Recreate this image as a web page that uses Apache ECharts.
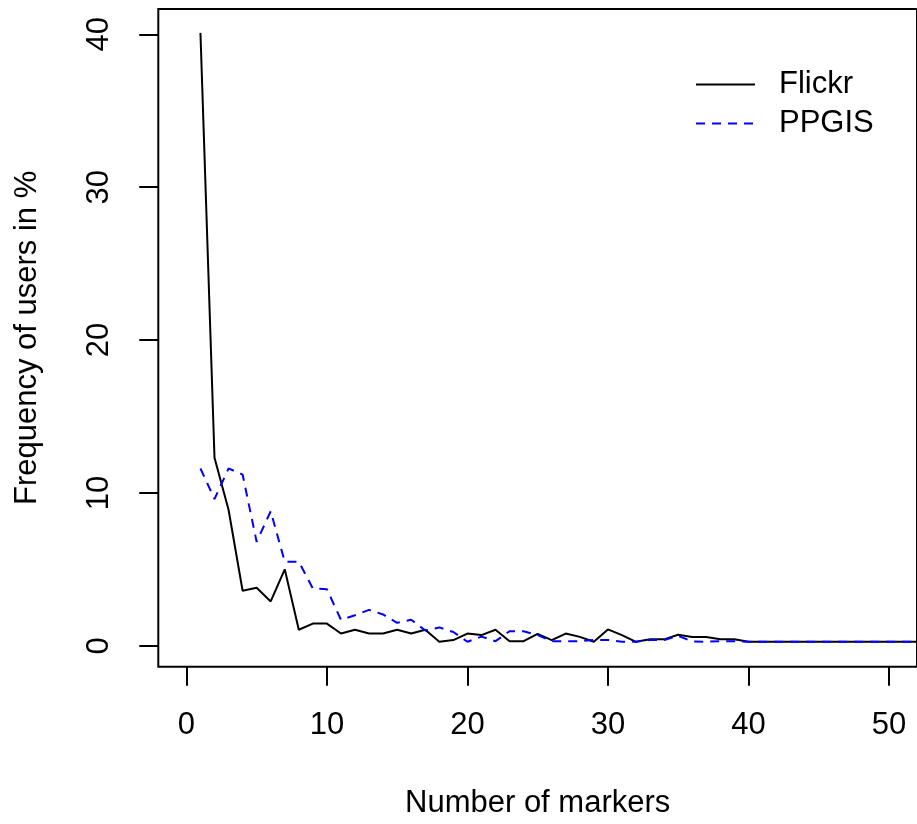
<!DOCTYPE html>
<html>
<head>
<meta charset="utf-8">
<script src="https://cdn.jsdelivr.net/npm/echarts@6/dist/echarts.min.js"></script>
<style>
html,body{margin:0;padding:0;background:#fff;}
#chart{width:917px;height:824px;}
</style>
</head>
<body>
<div id="chart"></div>
<script>
// Number of markers (x)
const markers = [1,2,3,4,5,6,7,8,9,10,11,12,13,14,15,16,17,18,19,20,
  21,22,23,24,25,26,27,28,29,30,31,32,33,34,35,36,37,38,39,40,
  41,42,43,44,45,46,47,48,49,50,51,52,53,54,55,56,57,58,59,60];
// Frequency of users in % (Flickr)
const flickr = [40.1,12.3,8.9,3.6,3.8,2.9,5.0,1.05,1.45,1.45,
  0.8,1.05,0.8,0.8,1.05,0.8,1.05,0.26,0.37,0.8,
  0.7,1.05,0.3,0.3,0.78,0.37,0.8,0.58,0.26,1.07,
  0.7,0.26,0.42,0.42,0.72,0.57,0.57,0.43,0.43,0.26,
  0.26,0.26,0.26,0.26,0.26,0.26,0.26,0.26,0.26,0.26,
  0.26,0.26,0.26,0.26,0.26,0.26,0.26,0.26,0.26,0.26];
// Frequency of users in % (PPGIS)
const ppgis = [11.6,9.6,11.6,11.2,6.8,8.8,5.5,5.5,3.75,3.7,
  1.7,2.0,2.35,2.05,1.5,1.7,1.0,1.2,0.9,0.26,
  0.6,0.3,0.95,0.95,0.7,0.3,0.3,0.3,0.38,0.38,
  0.26,0.26,0.38,0.37,0.65,0.28,0.26,0.3,0.3,0.26,
  0.26,0.26,0.26,0.26,0.26,0.26,0.26,0.26,0.26,0.26,
  0.26,0.26,0.26,0.26,0.26,0.26,0.26,0.26,0.26,0.26];
const xTicks = [0,10,20,30,40,50];
const yTicks = [0,10,20,30,40];
const seriesNames = ['Flickr','PPGIS'];

const chart = echarts.init(document.getElementById('chart'), null, {renderer:'canvas'});
const FONT = 'Liberation Sans';
const FS = 31;
chart.setOption({
  animation:false,
  backgroundColor:'#fff',
  textStyle:{fontFamily:FONT},
  grid:{left:158.3, top:9, width:766.8, height:657.7, show:true,
        borderColor:'#000', borderWidth:2, backgroundColor:'transparent', containLabel:false},
  legend:{
    data:seriesNames, orient:'vertical', left:690, top:64,
    itemWidth:59, itemHeight:14, itemGap:8,
    itemStyle:{opacity:0},
    lineStyle:{width:2},
    textStyle:{fontFamily:FONT, fontSize:FS, color:'#000', padding:[0,0,0,19]},
    selectedMode:false
  },
  xAxis:{
    type:'value', min:-2, max:52,
    name:'Number of markers', nameLocation:'middle', nameGap:121,
    nameTextStyle:{fontFamily:FONT, fontSize:FS, color:'#000'},
    axisLine:{show:false, onZero:false},
    axisTick:{show:true, length:19, customValues:xTicks, lineStyle:{color:'#000', width:2}},
    axisLabel:{customValues:xTicks, margin:43, fontFamily:FONT, fontSize:FS, color:'#000'},
    splitLine:{show:false}
  },
  yAxis:{
    type:'value', min:-1.37, max:41.66,
    name:'Frequency of users in %', nameLocation:'middle', nameGap:115, nameRotate:90,
    nameTextStyle:{fontFamily:FONT, fontSize:FS, color:'#000'},
    axisLine:{show:false, onZero:false},
    axisTick:{show:true, length:19, customValues:yTicks, lineStyle:{color:'#000', width:2}},
    axisLabel:{customValues:yTicks, margin:43, rotate:90, fontFamily:FONT, fontSize:FS, color:'#000'},
    splitLine:{show:false}
  },
  series:[
    {name:seriesNames[0], type:'line', symbol:'none', clip:true,
     data:markers.map((m,i)=>[m, flickr[i]]),
     itemStyle:{color:'#000'},
     lineStyle:{color:'#000', width:2, type:'solid'}},
    {name:seriesNames[1], type:'line', symbol:'none', clip:true,
     data:markers.map((m,i)=>[m, ppgis[i]]),
     itemStyle:{color:'#0000ff'},
     lineStyle:{color:'#0000ff', width:2, type:[9,7]}}
  ]
});
</script>
</body>
</html>
